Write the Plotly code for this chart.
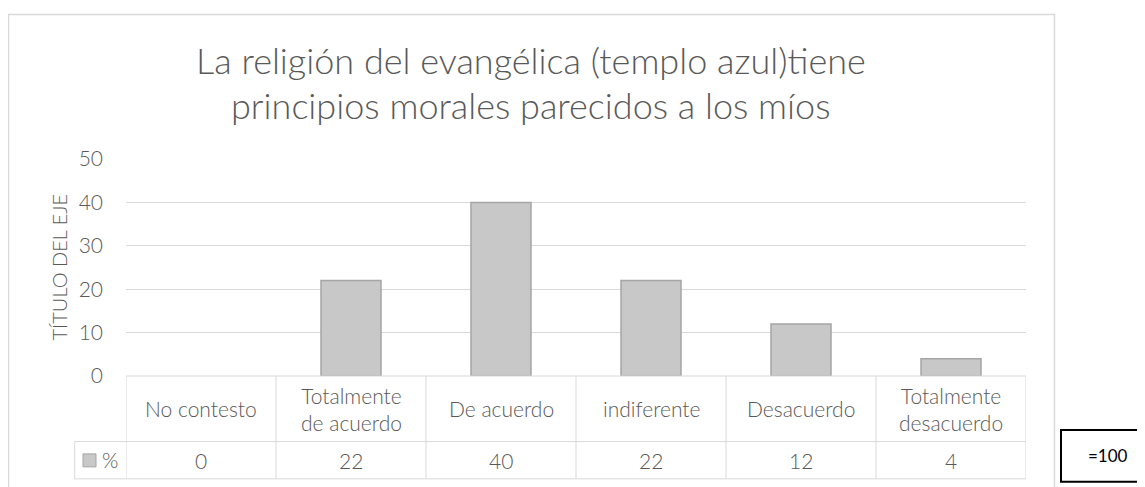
"""
Bar chart with an Excel-style data table underneath.
"""

import plotly.graph_objects as go

# -----------------------------------------------------------------------------
# Data
# -----------------------------------------------------------------------------

TITLE_LINES = [
    "La religión del evangélica (templo azul)tiene",
    "principios morales parecidos a los míos",
]
Y_TITLE = "TÍTULO DEL EJE"
SERIES_NAME = "%"
CATEGORIES = [
    "No contesto",
    "Totalmente<br>de acuerdo",
    "De acuerdo",
    "indiferente",
    "Desacuerdo",
    "Totalmente<br>desacuerdo",
]
VALUES = [0, 22, 40, 22, 12, 4]
Y_TICKS = [0, 10, 20, 30, 40, 50]
TOTAL_NOTE = "=100"

# -----------------------------------------------------------------------------
# Layout constants (pixels in the browser window)
# -----------------------------------------------------------------------------

WIN_W, WIN_H = 1145, 487
BODY_MARGIN = 8  # default <body> margin of the html page
PLOT_LEFT, PLOT_RIGHT = 126, 1026
PLOT_TOP, PLOT_BOTTOM = 158.7, 376
PW = PLOT_RIGHT - PLOT_LEFT
PH = PLOT_BOTTOM - PLOT_TOP

FONT = "Lato, 'Open Sans', sans-serif"
TEXT_COLOR = "#595959"
GRID_COLOR = "#d9d9d9"
BAR_COLOR = "#c8c8c8"
BAR_LINE = "#a5a5a5"

HEADER_BOTTOM = 441.7
ROW_BOTTOM = 479
LEGEND_LEFT = 74.7


def px_x(x):
    return (x - PLOT_LEFT) / PW


def px_y(y):
    return (PLOT_BOTTOM - y) / PH


def hline(y, x0, x1, color=GRID_COLOR, width=1):
    return dict(
        type="line", xref="paper", yref="paper",
        x0=px_x(x0), x1=px_x(x1), y0=px_y(y), y1=px_y(y),
        line=dict(color=color, width=width),
    )


def vline(x, y0, y1, color=GRID_COLOR, width=1):
    return dict(
        type="line", xref="paper", yref="paper",
        x0=px_x(x), x1=px_x(x), y0=px_y(y0), y1=px_y(y1),
        line=dict(color=color, width=width),
    )


# =============================================================================
# Bars
# =============================================================================

positions = list(range(len(CATEGORIES)))

fig = go.Figure(
    go.Bar(
        x=positions,
        y=VALUES,
        width=0.4,
        marker=dict(
            color=BAR_COLOR,
            line=dict(
                color=BAR_LINE,
                width=[0 if v == 0 else 1.5 for v in VALUES],
            ),
        ),
        name=SERIES_NAME,
        showlegend=False,
    )
)

# =============================================================================
# Data table, frame and texts
# =============================================================================

shapes = []
annotations = []

# outer chart frame
shapes.append(dict(
    type="rect", xref="paper", yref="paper",
    x0=px_x(8.5), x1=px_x(1054.5), y0=px_y(495), y1=px_y(14),
    line=dict(color=GRID_COLOR, width=1.5), layer="below",
))

# table grid
shapes.append(hline(PLOT_BOTTOM, PLOT_LEFT, PLOT_RIGHT))
shapes.append(hline(HEADER_BOTTOM, LEGEND_LEFT, PLOT_RIGHT))
shapes.append(hline(ROW_BOTTOM, LEGEND_LEFT, PLOT_RIGHT))
shapes.append(vline(LEGEND_LEFT, HEADER_BOTTOM, ROW_BOTTOM))
for i in range(len(CATEGORIES) + 1):
    shapes.append(dict(
        type="line", xref="x", yref="paper",
        x0=i - 0.5, x1=i - 0.5, y0=px_y(PLOT_BOTTOM), y1=px_y(ROW_BOTTOM),
        line=dict(color=GRID_COLOR, width=1),
    ))

cell_font = dict(family=FONT, size=21, color=TEXT_COLOR, weight=300)

# category + value cells
for i, (cat, val) in enumerate(zip(CATEGORIES, VALUES)):
    annotations.append(dict(
        x=i, xref="x", y=px_y((PLOT_BOTTOM + HEADER_BOTTOM) / 2), yref="paper",
        text=cat, showarrow=False, xanchor="center", yanchor="middle",
        font=cell_font,
    ))
    annotations.append(dict(
        x=i, xref="x", y=px_y((HEADER_BOTTOM + ROW_BOTTOM) / 2), yref="paper",
        text=str(val), showarrow=False, xanchor="center", yanchor="middle",
        font=cell_font,
    ))

# legend key in the table
shapes.append(dict(
    type="rect", xref="paper", yref="paper",
    x0=px_x(83), x1=px_x(96), y0=px_y(467), y1=px_y(454),
    fillcolor=BAR_COLOR, line=dict(color=BAR_LINE, width=1),
))
annotations.append(dict(
    x=px_x(110), xref="paper", y=px_y(460), yref="paper",
    text=SERIES_NAME, showarrow=False, xanchor="center", yanchor="middle",
    font=cell_font,
))

# title
for line, ypix in zip(TITLE_LINES, [60, 105]):
    annotations.append(dict(
        x=px_x(531), xref="paper", y=px_y(ypix), yref="paper",
        text=line, showarrow=False, xanchor="center", yanchor="middle",
        font=dict(family=FONT, size=36, color=TEXT_COLOR, weight=300),
    ))

# y axis title
annotations.append(dict(
    x=px_x(58), xref="paper", y=px_y((PLOT_TOP + PLOT_BOTTOM) / 2), yref="paper",
    text=Y_TITLE, textangle=-90, showarrow=False,
    xanchor="center", yanchor="middle",
    font=dict(family=FONT, size=20, color=TEXT_COLOR, weight=300),
))

# "=100" note box
shapes.append(dict(
    type="rect", xref="paper", yref="paper",
    x0=px_x(1061), x1=px_x(1150), y0=px_y(482), y1=px_y(430),
    line=dict(color="black", width=2),
))
annotations.append(dict(
    x=px_x(1108), xref="paper", y=px_y(456), yref="paper",
    text=TOTAL_NOTE, showarrow=False, xanchor="center", yanchor="middle",
    font=dict(family=FONT, size=17, color="black"),
))

fig.update_layout(
    width=WIN_W - BODY_MARGIN,
    height=WIN_H - BODY_MARGIN,
    margin=dict(
        l=PLOT_LEFT - BODY_MARGIN,
        r=WIN_W - PLOT_RIGHT,
        t=PLOT_TOP - BODY_MARGIN,
        b=WIN_H - PLOT_BOTTOM,
        pad=0,
    ),
    paper_bgcolor="white",
    plot_bgcolor="white",
    shapes=shapes,
    annotations=annotations,
    xaxis=dict(
        range=[-0.5, len(CATEGORIES) - 0.5],
        visible=False,
        fixedrange=True,
    ),
    yaxis=dict(
        range=[0, 50],
        tickvals=Y_TICKS,
        gridcolor=GRID_COLOR,
        gridwidth=1,
        zeroline=False,
        showline=False,
        ticks="",
        ticklabelstandoff=22,
        tickfont=dict(family=FONT, size=21, color=TEXT_COLOR, weight=300),
        fixedrange=True,
    ),
)

fig.write_html("out.html")
